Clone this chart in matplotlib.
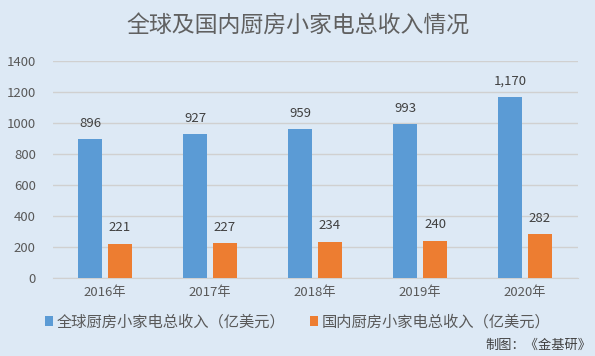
import numpy as np
import matplotlib
matplotlib.use("Agg")
import matplotlib.pyplot as plt

plt.rcParams['font.family'] = ['Noto Sans CJK SC', 'DejaVu Sans']

# data
years = ['2016年', '2017年', '2018年', '2019年', '2020年']
global_rev = [896, 927, 959, 993, 1170]
domestic_rev = [221, 227, 234, 240, 282]
global_labels = ['896', '927', '959', '993', '1,170']
domestic_labels = ['221', '227', '234', '240', '282']
series_names = ['全球厨房小家电总收入（亿美元）', '国内厨房小家电总收入（亿美元）']
yticks = [0, 200, 400, 600, 800, 1000, 1200, 1400]

bg = '#dde9f5'
blue = '#5b9bd5'
orange = '#ed7d31'

fig = plt.figure(figsize=(5.95, 3.56), dpi=100, facecolor=bg)
ax = fig.add_axes([52.5 / 595, 1 - 278 / 356, 525 / 595, 217 / 356])
ax.set_facecolor(bg)

x = np.arange(len(years))
w = 0.229
off = 0.143
b1 = ax.bar(x - off, global_rev, w, color=blue, label=series_names[0], zorder=3)
b2 = ax.bar(x + off, domestic_rev, w, color=orange, label=series_names[1], zorder=3)

for rect, lab in zip(b1, global_labels):
    ax.text(rect.get_x() + rect.get_width() / 2, rect.get_height() + 60, lab,
            ha='center', va='bottom', fontsize=9.5, color='#404040')
for rect, lab in zip(b2, domestic_labels):
    ax.text(rect.get_x() + rect.get_width() / 2, rect.get_height() + 60, lab,
            ha='center', va='bottom', fontsize=9.5, color='#404040')

ax.set_xlim(-0.5, len(years) - 0.5)
ax.set_ylim(0, 1400)
ax.set_yticks(yticks)
ax.set_yticklabels([str(v) for v in yticks])
ax.set_xticks(x)
ax.set_xticklabels(years)
ax.tick_params(axis='both', length=0, labelsize=9.5, colors='#595959')
ax.tick_params(axis='y', pad=12)
ax.tick_params(axis='x', pad=6)
ax.grid(axis='y', color='#d0d0d0', linewidth=1, zorder=0)
for s in ['top', 'right', 'left']:
    ax.spines[s].set_visible(False)
ax.spines['bottom'].set_color('#d0d0d0')

fig.text(0.5, 1 - 26 / 356, '全球及国内厨房小家电总收入情况', ha='center', va='center',
         fontsize=16.5, color='#606060')

leg = fig.legend(loc='center', bbox_to_anchor=(0.5, 1 - 322 / 356), ncol=2,
                 frameon=False, fontsize=11, handlelength=0.55, handleheight=0.55,
                 columnspacing=1.6, handletextpad=0.2)
for t in leg.get_texts():
    t.set_color('#595959')

fig.text(1 - 4 / 595, 1 - 345 / 356, '制图：《金基研》', ha='right', va='center',
         fontsize=9.5, color='#404040')

fig.savefig('out.png', dpi=100, facecolor=bg)
